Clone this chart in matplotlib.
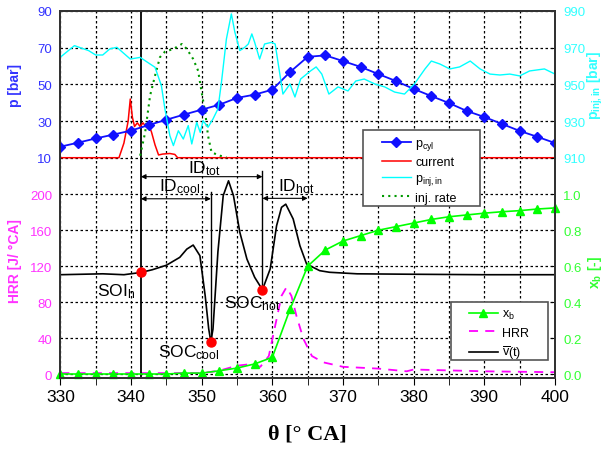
import matplotlib
matplotlib.use('Agg')
import matplotlib.pyplot as plt
from matplotlib.patches import Rectangle
from matplotlib.ticker import MultipleLocator, FormatStrFormatter

plt.rcParams['font.family'] = 'Liberation Sans'
plt.rcParams['mathtext.fontset'] = 'custom'
plt.rcParams['mathtext.rm'] = 'Liberation Sans'
plt.rcParams['mathtext.it'] = 'Liberation Sans:italic'
plt.rcParams['mathtext.bf'] = 'Liberation Sans:bold'
plt.rcParams['mathtext.default'] = 'regular'

# ---- data ----
# cylinder pressure [bar], markers every 2.5 deg
th_p = [330, 332.5, 335, 337.5, 340, 342.5, 345, 347.5, 350, 352.5, 355, 357.5, 360,
        362.5, 365, 367.5, 370, 372.5, 375, 377.5, 380, 382.5, 385, 387.5, 390,
        392.5, 395, 397.5, 400]
p_cyl = [16.0, 18.2, 20.5, 22.6, 24.8, 27.8, 30.7, 33.5, 36.2, 38.9, 42.6, 44.4, 47.1,
         56.7, 65.0, 65.8, 62.7, 59.5, 55.6, 51.8, 47.5, 43.6, 39.8, 35.5, 32.2,
         28.4, 24.6, 21.4, 18.0]

# injector current (plotted on p axis)
th_cur = [330, 338.3, 339.0, 339.6, 339.9, 340.2, 340.5, 340.9, 341.3, 341.7, 342.1,
          342.5, 342.9, 343.4, 343.9, 344.5, 345.5, 346.2, 346.6, 400]
current = [10, 10, 18, 30, 42, 32, 27, 29, 27, 29, 27, 28, 24, 17, 11.5, 12, 12.3,
           11.8, 10, 10]

# injector inlet pressure [bar]
th_inj = [330, 332, 334, 335, 336, 337, 338, 339.9, 341.3, 342.7, 343.4, 344.3, 344.8,
          345.5, 346.0, 346.7, 347.4, 348.1, 348.6, 349.3, 349.8, 350.2, 350.9,
          351.6, 352.3, 352.8, 353.5, 354.2, 354.7, 355.4, 356.1, 356.6, 357.1,
          357.5, 358.2, 358.9, 359.9, 360.4, 361.5, 362.5, 363.2, 364.0, 365.4,
          366.2, 367.0, 368.0, 369.3, 370.7, 371.8, 373.0, 374.5, 375.9, 377.3,
          378.7, 380.1, 381.6, 382.5, 383.7, 385.1, 386.5, 388.0, 389.4, 390.8,
          392.2, 393.6, 395.0, 396.4, 398.5, 400]
p_inj = [964.8, 971.1, 968.4, 966.0, 966.0, 969.3, 970.2, 963.8, 964.7, 961.1, 959.3,
         949.3, 936.6, 922.0, 916.6, 924.7, 920.2, 927.5, 917.5, 929.3, 923.8, 930.2,
         926.6, 931.1, 936.6, 951.1, 974.7, 988.4, 978.4, 968.4, 970.2, 972.0, 977.5,
         972.9, 963.8, 972.0, 972.9, 972.0, 944.7, 950.2, 943.1, 952.9, 957.3,
         959.5, 955.6, 944.7, 948.6, 946.4, 951.8, 952.9, 950.2, 948.6, 945.8,
         944.7, 950.2, 958.4, 962.7, 961.1, 958.4, 959.5, 962.7, 958.4, 955.6,
         955.1, 955.6, 954.6, 957.3, 958.4, 955.6]

# injection rate (arbitrary, plotted on p axis)
th_rate = [341.3, 342.0, 342.7, 343.4, 344.1, 344.8, 346.0, 347.2, 347.9, 348.8,
           349.5, 350.0, 350.5, 350.9, 351.4, 352.6, 353.5]
inj_rate = [11.1, 23.8, 43.8, 54.7, 64.8, 67.8, 69.3, 72.0, 69.3, 63.8, 57.4, 45.6,
            34.7, 22.0, 12.9, 11.1, 10.2]

# mass fraction burned, markers every 2.5 deg
th_xb = [330, 332.5, 335, 337.5, 340, 342.5, 345, 347.5, 350, 352.5, 355, 357.5, 360,
         362.5, 365, 367.5, 370, 372.5, 375, 377.5, 380, 382.5, 385, 387.5, 390,
         392.5, 395, 397.5, 400]
x_b = [0, 0, 0, 0, 0, 0, 0, 0.005, 0.005, 0.018, 0.033, 0.056, 0.093,
       0.36, 0.60, 0.69, 0.74, 0.77, 0.80, 0.82, 0.84, 0.86, 0.875, 0.885, 0.895,
       0.903, 0.909, 0.918, 0.924]

# heat release rate [J/deg CA]
th_hrr = [330, 340, 350, 352.5, 355, 357, 358.3, 359.5, 360.6, 361.3, 362.0, 362.7,
          363.4, 364.4, 365.6, 367.2, 370, 375, 379, 380, 385, 390, 395, 400]
hrr = [1, 1, 1, 3.7, 9.3, 11, 8, 20, 61, 87, 96.5, 87, 65, 39, 20, 13, 8, 6, 3,
       5, 4, 3, 2.5, 2]

# mean velocity signal v(t) (on HRR scale)
th_v = [330, 333, 336, 339, 341.4, 343, 345, 346.9, 347.9, 348.8, 349.75, 350.5,
        351.0, 351.3, 351.6, 352.3, 353.05, 353.8, 354.5, 355.4, 356.4, 357.5, 358.6,
        359.7, 360.6, 361.3, 361.9, 362.95, 363.9, 364.85, 366.7, 368.1, 372, 380,
        390, 400]
v_bar = [110.5, 111, 111.5, 110.5, 113, 116, 121, 129.8, 139, 143.5, 131.7, 87,
         50, 36, 50, 136, 198.5, 215, 198.5, 157.7, 128, 107.6, 93.8,
         117, 165, 185.5, 189, 172.5, 142.8, 122.4, 115, 113.2, 111.5, 111,
         110.5, 110.5]

# events
soi_h = (341.4, 114)
soc_cool = (351.3, 36)
soc_hot = (358.6, 94)

# ---- figure ----
fig = plt.figure(figsize=(6.05, 4.52), dpi=100)
ax = fig.add_axes([0.0997, 0.1615, 0.8177, 0.812])
axp = ax.twinx()
axi = ax.twinx()
axx = ax.twinx()

ax.set_xlim(330, 400)
ax.set_ylim(-4.45, 404)
axp.set_ylim(-110.1, 90)
axi.set_ylim(789.9, 990)
axx.set_ylim(-4.45 / 200, 404 / 200)

ax.xaxis.set_major_locator(MultipleLocator(10))
ax.xaxis.set_minor_locator(MultipleLocator(5))
ax.tick_params(axis='x', which='both', direction='out', length=5, labelsize=12.5, pad=3)

ax.set_yticks([0, 40, 80, 120, 160, 200])
ax.tick_params(axis='y', length=0, labelsize=9.5, labelcolor='#ff33ff', pad=6)
axp.yaxis.tick_left()
axp.yaxis.set_label_position('left')
axp.set_yticks([10, 30, 50, 70, 90])
axp.tick_params(axis='y', length=0, labelsize=9.5, labelcolor='#3333ff', pad=6)
axi.set_yticks([910, 930, 950, 970, 990])
axi.tick_params(axis='y', direction='in', length=3, labelsize=9.5, labelcolor='#33ffff', pad=6)
axx.set_yticks([0, 0.2, 0.4, 0.6, 0.8, 1.0])
axx.yaxis.set_major_formatter(FormatStrFormatter('%.1f'))
axx.tick_params(axis='y', direction='in', length=3, labelsize=9.5, labelcolor='#33ff33', pad=6)

for a in (ax, axp, axi, axx):
    for s in a.spines.values():
        s.set_linewidth(1.4)
        s.set_color('#333333')

ax.grid(True, which='both', axis='x', color='black', linestyle=(0, (2, 2)), linewidth=0.9)
ax.grid(True, axis='y', color='black', linestyle=(0, (2, 2)), linewidth=0.9)
axp.grid(True, axis='y', color='black', linestyle=(0, (2, 2)), linewidth=0.9)

# labels
axp.set_ylabel('p [bar]', color='#3333ff', fontsize=10, fontweight='bold')
axp.yaxis.set_label_coords(-0.078, 0.8)
ax.set_ylabel('HRR [J/ °CA]', color='#ff33ff', fontsize=10, fontweight='bold')
ax.yaxis.set_label_coords(-0.078, 0.32)
axi.set_ylabel('p$_{inj,in}$ [bar]', color='#33ffff', fontsize=10, fontweight='bold')
axi.yaxis.set_label_coords(1.062, 0.8)
axx.set_ylabel('x$_b$ [-]', color='#33ff33', fontsize=10, fontweight='bold')
axx.yaxis.set_label_coords(1.062, 0.29)
ax.set_xlabel('θ [° CA]', family='Liberation Serif', fontsize=16, fontweight='bold',
              labelpad=14)

# curves
h_v, = ax.plot(th_v, v_bar, color='black', lw=1.2, label=r'$\overline{v}$(t)')
h_hrr, = ax.plot(th_hrr, hrr, color='#ff00ff', lw=1.3, ls=(0, (5, 4)), label='HRR')
h_cur, = axp.plot(th_cur, current, color='red', lw=1.1, label='current')
h_rate, = axp.plot(th_rate, inj_rate, color='#009900', lw=1.5, ls=(0, (1, 2)),
                   label='inj. rate')
h_inj, = axi.plot(th_inj, p_inj, color='cyan', lw=1.0, label='p$_{inj,in}$')
h_p, = axp.plot(th_p, p_cyl, color='#1010ff', lw=1.3, marker='D', ms=5,
                label='p$_{cyl}$')
h_xb, = axx.plot(th_xb, x_b, color='#00ff00', lw=1.2, marker='^', ms=6,
                 label='x$_b$', clip_on=False)

# events: vertical lines, arrows and dots
ax.axvline(soi_h[0], color='black', lw=1.3)
ax.plot([soc_cool[0], soc_cool[0]], [soc_cool[1], 203], color='black', lw=1.0)
ax.plot([soc_hot[0], soc_hot[0]], [soc_hot[1], 226], color='black', lw=1.0)
arrow = dict(arrowstyle='<|-|>', mutation_scale=7, lw=0.8, color='black',
             shrinkA=0, shrinkB=0)
ax.annotate('', xy=(soi_h[0], 219.6), xytext=(soc_hot[0], 219.6), arrowprops=arrow)
ax.annotate('', xy=(soi_h[0], 195), xytext=(soc_cool[0], 195), arrowprops=arrow)
ax.annotate('', xy=(soc_hot[0], 195.5), xytext=(365, 195.5), arrowprops=arrow)
ax.plot([soi_h[0], soc_cool[0], soc_hot[0]], [soi_h[1], soc_cool[1], soc_hot[1]],
        'o', color='red', ms=6.5, zorder=5)

ax.text(348.1, 224.4, 'ID$_{tot}$', fontsize=12.5)
ax.text(343.9, 204, 'ID$_{cool}$', fontsize=12.5)
ax.text(360.8, 204, 'ID$_{hot}$', fontsize=12.5)
ax.text(335.2, 88, 'SOI$_h$', fontsize=12.5)
ax.text(343.8, 20, 'SOC$_{cool}$', fontsize=12.5)
ax.text(353.1, 74, 'SOC$_{hot}$', fontsize=12.5)

# legend boxes (drawn as plain rectangles so their size matches the original)
for (x0, y0, x1, y1) in [(363, 131, 480, 207), (451, 303, 548, 361)]:
    axx.add_patch(Rectangle((x0 / 605, 1 - y1 / 452), (x1 - x0) / 605, (y1 - y0) / 452,
                            transform=fig.transFigure, facecolor='white',
                            edgecolor='#555555', lw=1.2, zorder=6, clip_on=False))

leg_kw = dict(loc='upper left', bbox_transform=fig.transFigure, fontsize=9,
              frameon=False, handlelength=2.3, handletextpad=0.35,
              borderpad=0, borderaxespad=0)
leg1 = axx.legend(handles=[h_p, h_cur, h_inj, h_rate], labelspacing=0.33,
                  bbox_to_anchor=(382 / 605, 1 - 138 / 452), **leg_kw)
leg1.set_zorder(7)
axx.add_artist(leg1)
leg2 = axx.legend(handles=[h_xb, h_hrr, h_v], labelspacing=0.45,
                  bbox_to_anchor=(469 / 605, 1 - 309 / 452), **leg_kw)
leg2.set_zorder(7)

fig.savefig('out.png', dpi=100)
